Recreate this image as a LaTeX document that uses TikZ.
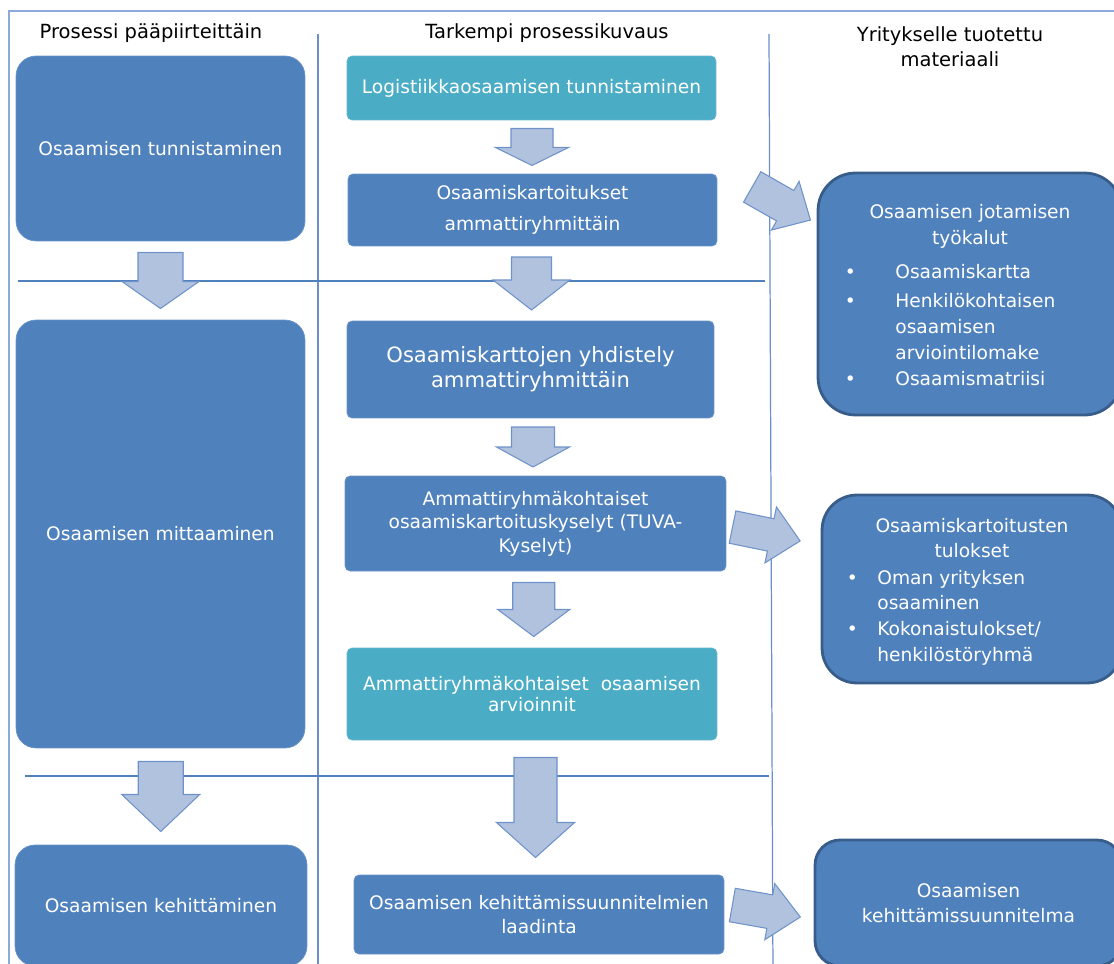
\documentclass[tikz,border=0pt]{standalone}
\usepackage{fontspec}
\setmainfont{DejaVu Sans}
\usepackage{tikz}
\usetikzlibrary{positioning, calc}
\definecolor{boxblau}{HTML}{4F81BD}
\definecolor{boxtuerkis}{HTML}{4BACC6}
\definecolor{randblau}{HTML}{385D8A}
\definecolor{pfeilfill}{HTML}{B0C2DE}
\definecolor{pfeilrand}{HTML}{6E92C9}
\definecolor{linienblau}{HTML}{6A8FCB}
\definecolor{rahmenblau}{HTML}{8EAADB}
\newcommand{\listpunkt}[1]{\makebox[#1][l]{\textbullet}}

\begin{document}
\begin{tikzpicture}[
                x=0.02cm, y=-0.02cm,
                schrift/.style={font=\fontsize{10.6}{14.5}\selectfont},
                hauptbox/.style={schrift, rectangle, rounded corners=0.4cm, fill=boxblau, draw=boxblau!85!white, text=white, align=center, inner sep=2pt},
                schrittbox/.style={schrift, rectangle, rounded corners=0.1cm, fill=boxblau, draw=boxblau!85!white, text=white, align=center, inner sep=2pt},
                tuerkisbox/.style={schrittbox, fill=boxtuerkis, draw=boxtuerkis!85!white},
                ergebnisbox/.style={schrift, rectangle, fill=boxblau, draw=randblau, line width=1.6pt, text=white, align=center},
                ueberschrift/.style={font=\fontsize{11.1}{14.2}\selectfont, text=black, align=center, inner sep=0pt},
                boxtext/.style={font=\fontsize{10.6}{14.7}\selectfont, text=white, inner sep=0pt},
                trennlinie/.style={draw=linienblau, line width=0.7pt},
                querlinie/.style={draw=boxblau, line width=1.1pt},
                pfeil/.style={fill=pfeilfill, draw=pfeilrand, line width=0.6pt, line join=miter},
                pics/blockpfeil/.style args={#1/#2/#3/#4}{code={
                    \draw[pfeil] (-#1/2,-#2/2) -- (#1/2-#4,-#2/2) -- (#1/2-#4,-#3/2) -- (#1/2,0)
                        -- (#1/2-#4,#3/2) -- (#1/2-#4,#2/2) -- (-#1/2,#2/2) -- cycle;
                }}
            ]
            \useasboundingbox (0,0) rectangle (1114,963);

            % Rahmen und Trennlinien
            \draw[draw=rahmenblau, line width=0.8pt] (9,980) -- (9,11) -- (1130,11);
            \draw[trennlinie] (318,34) -- (318,980);
            \draw[trennlinie] (769,34) -- (773,980);
            \draw[querlinie] (18,281) -- (765,281);
            \draw[querlinie] (25,776) -- (769,776);

            % Ueberschriften
            \node[ueberschrift] (H1) at (151,33) {Prosessi pääpiirteittäin};
            \node[ueberschrift] (H2) at (547,33) {Tarkempi prosessikuvaus};
            \node[ueberschrift] (H3) at (950,47) {Yritykselle tuotettu\\materiaali};

            % Knoten links
            \node[hauptbox, minimum width=5.78cm, minimum height=3.70cm] (L1) at (160.5,148.5) {Osaamisen tunnistaminen};
            \node[hauptbox, minimum width=5.78cm, minimum height=8.56cm] (L2) at (160.5,534) {Osaamisen mittaaminen};
            \node[hauptbox, minimum width=5.84cm, minimum height=2.42cm] (L3) at (161,905.5) {Osaamisen kehittäminen};

            % Knoten Mitte
            \node[tuerkisbox, minimum width=7.38cm, minimum height=1.28cm] (M1) at (531.5,88) {Logistiikkaosaamisen tunnistaminen};
            \node[schrittbox, font=\fontsize{10.6}{17.6}\selectfont, minimum width=7.38cm, minimum height=1.44cm] (M2) at (532.5,210) {Osaamiskartoitukset\\ammattiryhmittäin};
            \node[schrittbox, font=\fontsize{12}{14.2}\selectfont, minimum width=7.34cm, minimum height=1.94cm] (M3) at (530.5,369.5) {Osaamiskarttojen yhdistely\\ammattiryhmittäin};
            \node[schrittbox, font=\fontsize{10.6}{13.3}\selectfont, minimum width=7.62cm, minimum height=1.90cm] (M4) at (535.5,523.5) {Ammattiryhmäkohtaiset\\osaamiskartoituskyselyt (TUVA-\\Kyselyt)};
            \node[tuerkisbox, font=\fontsize{10.6}{12}\selectfont, minimum width=7.40cm, minimum height=1.84cm] (M5) at (532,694) {Ammattiryhmäkohtaiset~ osaamisen\\arvioinnit};
            \node[schrittbox, font=\fontsize{10.6}{13.6}\selectfont, minimum width=7.40cm, minimum height=1.58cm] (M6) at (539,914.5) {Osaamisen kehittämissuunnitelmien\\laadinta};

            % Knoten rechts
            \node[ergebnisbox, rounded corners=0.75cm, minimum width=6.08cm, minimum height=4.84cm] (R1) at (970,294) {};
            \node[boxtext, align=center] (R1titel) at (970,226) {Osaamisen jotamisen\\työkalut};
            \node[boxtext, align=left, anchor=north west] (R1liste) at (844.5,263.6) {\listpunkt{1.01cm}Osaamiskartta\\[2.3pt]
                \listpunkt{1.01cm}Henkilökohtaisen\\ \hspace*{1.01cm}osaamisen\\ \hspace*{1.01cm}arviointilomake\\
                \listpunkt{1.01cm}Osaamismatriisi};

            \node[ergebnisbox, rounded corners=0.7cm, minimum width=6.0cm, minimum height=3.76cm] (R2) at (972,589) {};
            \node[boxtext, align=center] (R2titel) at (972,538) {Osaamiskartoitusten\\tulokset};
            \node[boxtext, align=left, anchor=north west] (R2liste) at (846.5,569.6) {\listpunkt{0.61cm}Oman yrityksen\\ \hspace*{0.61cm}osaaminen\\
                \listpunkt{0.61cm}Kokonaistulokset/\\ \hspace*{0.61cm}henkilöstöryhmä};

            \node[ergebnisbox, rounded corners=0.5cm, font=\fontsize{10.6}{14.2}\selectfont, minimum width=6.14cm, minimum height=2.52cm] (R3) at (968.5,903) {Osaamisen\\kehittämissuunnitelma};

            % Pfeile zwischen Knoten
            \pic[rotate=-90] at ($(L1.south)!0.5!(L2.north)$) {blockpfeil=56/45/77/27};
            \pic[rotate=-90] at ($(L2.south)!0.5!(L3.north)$) {blockpfeil=70/45/78/37};
            \pic[rotate=-90] at ($(M1.south)!0.5!(M2.north)$) {blockpfeil=37/42/73/18};
            \pic[rotate=-90] at ($(M2.south)!0.5!(M3.north)$) {blockpfeil=53/40/77/30};
            \pic[rotate=-90] at ($(M3.south)!0.5!(M4.north)$) {blockpfeil=40/43/73/20};
            \pic[rotate=-90] at ($(M4.south)!0.5!(M5.north)$) {blockpfeil=54/42/72/27};
            \pic[rotate=-90] at ($(M5.south)!0.5!(M6.north)$) {blockpfeil=100/43/78/35};
            \pic[rotate=-29.6] at ($(M2.east)+(64,-6.5)$) {blockpfeil=67/35/56/29};
            \pic[rotate=-11.6] at ($(M4.east)+(40,10.5)$) {blockpfeil=69/33/57/30};
            \pic[rotate=-10] at ($(M6.east)+(42,-3.5)$) {blockpfeil=69/34/57/31};

        \end{tikzpicture}
\end{document}
